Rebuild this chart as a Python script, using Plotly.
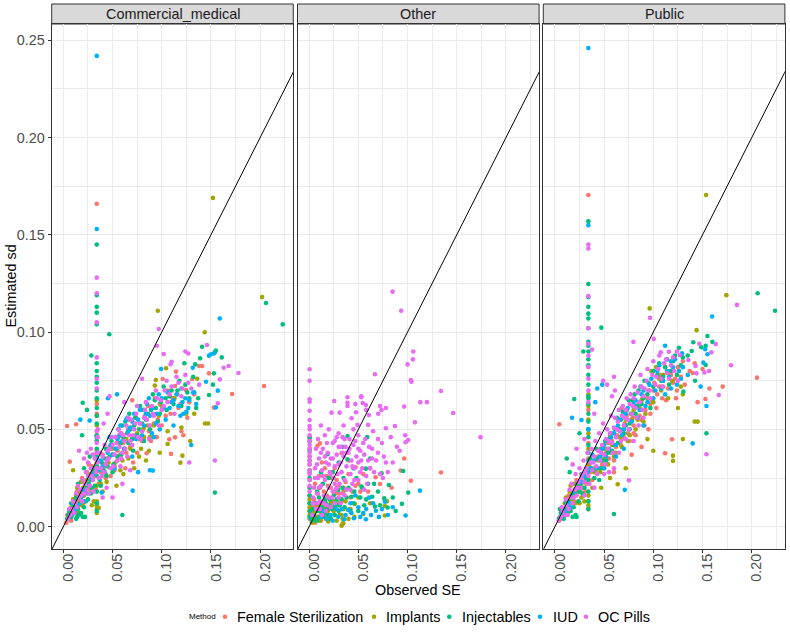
import plotly.graph_objects as go

# ---------------- data ----------------
PANELS = ["Commercial_medical", "Other", "Public"]
METHODS = ["Female Sterilization", "Implants", "Injectables", "IUD", "OC Pills"]
COLORS = ["#F8766D", "#A3A500", "#00BF7D", "#00B0F6", "#E76BF3"]
X_TICKS = [0.00, 0.05, 0.10, 0.15, 0.20]
Y_TICKS = [0.00, 0.05, 0.10, 0.15, 0.20, 0.25]
X_RANGE = [-0.0118, 0.2337]
Y_RANGE = [-0.0115, 0.2584]

# (Observed SE, Estimated sd) pairs
CM_FS = [(0.034,0.166),(0.034,0.063),(0.034,0.058),(0.034,0.044),(0.034,0.029),
    (0.0038,0.0517),(0.013,0.0526),(0.0065,0.0334),(0.003,0.002),(0.005,0.004),(0.007,0.006),
    (0.009,0.009),(0.011,0.008),(0.013,0.012),(0.015,0.014),(0.017,0.017),(0.02,0.012),(0.022,0.02),
    (0.024,0.028),(0.027,0.019),(0.03,0.025),(0.036,0.022),(0.038,0.028),(0.042,0.031),(0.045,0.035),
    (0.048,0.026),(0.05,0.04),(0.053,0.033),(0.056,0.046),(0.058,0.037),(0.061,0.043),(0.063,0.03),
    (0.066,0.05),(0.068,0.041),(0.07,0.065),(0.072,0.046),(0.075,0.038),(0.078,0.053),(0.08,0.044),
    (0.083,0.057),(0.0847,0.0377),(0.087,0.049),(0.09,0.061),(0.092,0.053),(0.095,0.046),(0.098,0.063),
    (0.101,0.0759),(0.104,0.057),(0.1077,0.0449),(0.1094,0.0374),(0.111,0.066),(0.1135,0.0459),
    (0.1135,0.0723),(0.1145,0.0797),(0.117,0.061),(0.12,0.049),(0.122,0.047),(0.1247,0.0702),
    (0.128,0.064),(0.131,0.0759),(0.138,0.0826),(0.141,0.0826),(0.148,0.0788),(0.153,0.0612),
    (0.1715,0.0682),(0.204,0.0723),(0.019,0.025),(0.026,0.032),
    (0.004,0.006),(0.008,0.003),(0.014,0.018),(0.021,0.016),(0.025,0.022),(0.029,0.031),(0.033,0.019),
    (0.04,0.037),(0.043,0.025),(0.047,0.041),(0.052,0.029),(0.055,0.039),(0.059,0.048),(0.064,0.038),
    (0.067,0.055),(0.071,0.033),(0.074,0.056),(0.077,0.045),(0.082,0.051),(0.086,0.062),(0.089,0.044),
    (0.093,0.066),(0.096,0.055),(0.1,0.052),(0.106,0.07),(0.109,0.058),(0.116,0.068),(0.119,0.063),
    (0.126,0.056),(0.133,0.068)]
CM_IMP = [(0.034,0.065),(0.034,0.057),(0.034,0.052),(0.034,0.047),(0.034,0.039),(0.034,0.033),
    (0.034,0.021),(0.034,0.013),(0.034,0.011),(0.034,0.009),(0.034,0.007),
    (0.152,0.169),(0.096,0.111),(0.202,0.118),(0.1437,0.0999),(0.144,0.053),(0.147,0.053),
    (0.121,0.0365),(0.119,0.0329),(0.129,0.044),(0.098,0.038),(0.106,0.0425),(0.036,0.0096),
    (0.0099,0.029),(0.006,0.007),(0.008,0.010),(0.01,0.014),(0.012,0.008),(0.014,0.02),(0.016,0.012),
    (0.018,0.023),(0.021,0.016),(0.024,0.024),(0.029,0.011),(0.031,0.013),(0.04,0.018),(0.043,0.027),
    (0.046,0.033),(0.05,0.037),(0.054,0.021),(0.057,0.043),(0.06,0.034),(0.064,0.045),(0.068,0.04),
    (0.072,0.03),(0.075,0.048),(0.079,0.04),(0.082,0.046),(0.086,0.052),(0.094,0.0754),(0.093,0.0725),
    (0.1044,0.0814),(0.136,0.076),(0.133,0.058),(0.12,0.051),(0.106,0.049),(0.084,0.034),
    (0.1,0.062),(0.113,0.066),(0.125,0.058),(0.087,0.039),(0.061,0.027),
    (0.004,0.004),(0.009,0.006),(0.011,0.011),(0.013,0.016),(0.015,0.007),(0.017,0.018),(0.019,0.011),
    (0.02,0.02),(0.023,0.013),(0.026,0.02),(0.028,0.027),(0.038,0.022),(0.041,0.032),(0.044,0.023),
    (0.048,0.04),(0.052,0.031),(0.055,0.036),(0.058,0.029),(0.062,0.04),(0.066,0.035),(0.07,0.045),
    (0.077,0.036),(0.081,0.05),(0.088,0.046),(0.092,0.052),(0.097,0.057)]
CM_INJ = [(0.034,0.145),(0.034,0.119),(0.034,0.113),(0.034,0.110),(0.034,0.104),(0.034,0.084),
    (0.034,0.080),(0.034,0.077),(0.034,0.074),(0.034,0.070),(0.034,0.066),(0.034,0.061),(0.034,0.057),
    (0.034,0.053),(0.034,0.047),(0.034,0.044),(0.034,0.040),(0.034,0.036),(0.034,0.031),(0.034,0.026),
    (0.034,0.018),(0.034,0.012),(0.034,0.008),
    (0.0467,0.0989),(0.0285,0.088),(0.206,0.115),(0.223,0.104),(0.154,0.0175),(0.060,0.006),
    (0.0197,0.0637),(0.019,0.047),(0.141,0.0925),(0.154,0.0896),(0.155,0.0905),(0.161,0.087),
    (0.139,0.0865),(0.123,0.084),(0.134,0.0834),(0.153,0.0788),(0.152,0.073),(0.148,0.0677),
    (0.137,0.066),(0.024,0.06),
    (0.004,0.004),(0.006,0.008),(0.008,0.005),(0.01,0.01),(0.012,0.007),(0.013,0.015),(0.015,0.009),
    (0.017,0.012),(0.018,0.007),(0.02,0.005),(0.022,0.005),(0.023,0.018),(0.025,0.014),(0.026,0.022),
    (0.028,0.017),(0.03,0.028),(0.032,0.021),(0.037,0.024),(0.039,0.033),(0.041,0.029),(0.043,0.04),
    (0.044,0.026),(0.047,0.036),(0.049,0.044),(0.051,0.032),(0.054,0.04),(0.056,0.05),(0.059,0.037),
    (0.061,0.046),(0.063,0.054),(0.066,0.043),(0.068,0.05),(0.071,0.039),(0.073,0.056),(0.075,0.047),
    (0.078,0.062),(0.08,0.053),(0.082,0.044),(0.086,0.058),(0.088,0.05),(0.091,0.068),(0.094,0.061),
    (0.096,0.054),(0.099,0.064),(0.102,0.072),(0.105,0.06),(0.108,0.067),(0.112,0.063),(0.116,0.07),
    (0.12,0.062),(0.124,0.073),(0.128,0.066),(0.135,0.061),(0.008,0.012),(0.015,0.022),(0.021,0.03),
    (0.027,0.036),(0.013,0.004),(0.016,0.006),
    (0.005,0.006),(0.009,0.007),(0.011,0.013),(0.014,0.005),(0.019,0.016),(0.021,0.01),(0.024,0.02),
    (0.027,0.026),(0.029,0.02),(0.031,0.03),(0.036,0.029),(0.038,0.021),(0.042,0.035),(0.045,0.031),
    (0.048,0.041),(0.05,0.028),(0.053,0.046),(0.055,0.036),(0.058,0.043),(0.06,0.052),(0.062,0.04),
    (0.065,0.048),(0.067,0.058),(0.07,0.045),(0.072,0.052),(0.077,0.05),(0.081,0.06),(0.084,0.055),
    (0.089,0.06),(0.093,0.065),(0.098,0.058),(0.104,0.066),(0.11,0.07),(0.118,0.075),(0.126,0.069),
    (0.132,0.077)]
CM_IUD = [(0.034,0.242),(0.034,0.153),(0.034,0.046),(0.034,0.035),
    (0.159,0.107),(0.157,0.0699),(0.155,0.0613),(0.148,0.0879),(0.150,0.0886),(0.153,0.089),
    (0.1315,0.0817),(0.145,0.0745),(0.133,0.069),(0.135,0.063),(0.13,0.042),(0.0993,0.081),
    (0.091,0.0288),(0.088,0.029),(0.0705,0.0185),(0.039,0.0175),(0.0173,0.055),(0.0268,0.0545),
    (0.0454,0.066),(0.0546,0.068),(0.112,0.065),(0.12,0.071),(0.132,0.069),
    (0.008,0.006),(0.012,0.009),(0.018,0.015),(0.022,0.013),(0.028,0.024),(0.035,0.029),(0.04,0.031),
    (0.045,0.038),(0.05,0.037),(0.055,0.045),(0.058,0.052),(0.062,0.04),(0.066,0.049),(0.07,0.054),
    (0.074,0.045),(0.078,0.06),(0.082,0.052),(0.085,0.063),(0.088,0.057),(0.092,0.046),(0.095,0.058),
    (0.098,0.05),(0.1,0.066),(0.104,0.055),(0.108,0.061),(0.112,0.052),(0.115,0.068),(0.119,0.057),
    (0.122,0.058),(0.125,0.059),(0.128,0.065),(0.07,0.036),(0.09,0.048),(0.065,0.056),(0.047,0.046),
    (0.052,0.03),(0.076,0.028),
    (0.01,0.012),(0.015,0.011),(0.02,0.019),(0.025,0.017),(0.031,0.027),(0.038,0.034),(0.042,0.028),
    (0.048,0.042),(0.053,0.04),(0.057,0.047),(0.06,0.044),(0.064,0.055),(0.068,0.051),(0.072,0.058),
    (0.076,0.055),(0.08,0.047),(0.084,0.058),(0.087,0.066),(0.091,0.061),(0.094,0.053),(0.097,0.068),
    (0.102,0.061),(0.106,0.069),(0.11,0.064),(0.117,0.062),(0.121,0.064),(0.124,0.066),(0.127,0.061)]
CM_OC = [(0.034,0.128),(0.034,0.120),(0.034,0.105),(0.034,0.087),(0.034,0.076),(0.034,0.071),
    (0.034,0.049),(0.034,0.043),(0.034,0.038),
    (0.097,0.1016),(0.095,0.093),(0.102,0.0887),(0.124,0.09),(0.127,0.089),(0.146,0.0934),
    (0.168,0.0826),(0.178,0.079),(0.163,0.0817),(0.159,0.0757),(0.157,0.0634),(0.154,0.034),
    (0.128,0.033),(0.110,0.0848),(0.109,0.0835),(0.080,0.076),(0.047,0.067),(0.045,0.058),
    (0.016,0.039),(0.021,0.035),(0.05,0.015),(0.044,0.02),(0.138,0.073),
    (0.005,0.004),(0.007,0.006),(0.009,0.009),(0.011,0.007),(0.012,0.012),(0.014,0.01),(0.016,0.015),
    (0.017,0.019),(0.019,0.013),(0.021,0.017),(0.022,0.022),(0.024,0.019),(0.025,0.026),(0.027,0.021),
    (0.028,0.03),(0.03,0.024),(0.031,0.018),(0.033,0.028),(0.035,0.033),(0.036,0.025),(0.038,0.03),
    (0.04,0.036),(0.041,0.028),(0.043,0.032),(0.045,0.039),(0.046,0.035),(0.048,0.03),(0.05,0.042),
    (0.052,0.037),(0.053,0.046),(0.055,0.034),(0.057,0.041),(0.058,0.048),(0.06,0.038),(0.062,0.044),
    (0.064,0.052),(0.065,0.036),(0.067,0.047),(0.069,0.055),(0.07,0.042),(0.072,0.05),(0.074,0.058),
    (0.076,0.046),(0.078,0.053),(0.08,0.049),(0.083,0.06),(0.085,0.055),(0.087,0.045),(0.09,0.062),
    (0.092,0.057),(0.095,0.066),(0.097,0.052),(0.1,0.06),(0.103,0.07),(0.106,0.064),(0.11,0.072),
    (0.113,0.058),(0.117,0.074),(0.12,0.067),(0.124,0.078),(0.13,0.071),(0.06,0.022),(0.068,0.029),
    (0.058,0.031),(0.04,0.015),(0.035,0.046),(0.028,0.04),(0.03,0.037),(0.025,0.033),
    (0.006,0.009),(0.01,0.013),(0.013,0.017),(0.015,0.021),(0.018,0.016),(0.02,0.024),(0.023,0.028),
    (0.026,0.017),(0.029,0.026),(0.032,0.035),(0.034,0.03),(0.037,0.038),(0.039,0.026),(0.042,0.042),
    (0.044,0.034),(0.047,0.04),(0.049,0.046),(0.051,0.031),(0.054,0.043),(0.056,0.05),(0.059,0.035),
    (0.061,0.047),(0.063,0.04),(0.066,0.056),(0.068,0.044),(0.071,0.047),(0.073,0.053),(0.075,0.062),
    (0.079,0.045),(0.082,0.056),(0.084,0.064),(0.088,0.052),(0.091,0.058),(0.094,0.07),(0.099,0.065),
    (0.102,0.062),(0.105,0.075),(0.108,0.068),(0.115,0.077),(0.121,0.071),(0.127,0.074),(0.035,0.05),
    (0.041,0.053),(0.024,0.038),(0.062,0.064)]

OT_FS = [(0.0005,0.045),(0.0005,0.04),(0.0005,0.036),(0.0005,0.032),(0.0005,0.028),(0.0005,0.024),
    (0.0005,0.02),(0.0005,0.016),(0.0005,0.012),(0.0005,0.008),(0.0005,0.004),
    (0.011,0.0428),(0.0085,0.0416),(0.0966,0.035),(0.093,0.0288),(0.1034,0.0236),(0.0675,0.0254),
    (0.072,0.0219),(0.0838,0.02),(0.0472,0.0305),(0.033,0.0377),(0.134,0.0278),(0.004,0.003),
    (0.006,0.002),(0.008,0.005),(0.01,0.008),(0.012,0.003),(0.014,0.012),(0.016,0.006),(0.018,0.016),
    (0.02,0.009),(0.022,0.02),(0.025,0.013),(0.028,0.024),(0.031,0.017),(0.035,0.02),(0.04,0.027),
    (0.044,0.018),(0.05,0.022),(0.055,0.027),(0.06,0.018),(0.026,0.03),(0.018,0.026),(0.013,0.033),
    (0.04,0.034),(0.062,0.03),
    (0.002,0.006),(0.003,0.01),(0.005,0.014),(0.007,0.011),(0.009,0.017),(0.011,0.02),(0.013,0.007),
    (0.015,0.018),(0.017,0.011),(0.019,0.021),(0.021,0.014),(0.023,0.025),(0.027,0.017),(0.03,0.021),
    (0.033,0.013),(0.037,0.023),(0.042,0.015),(0.047,0.021),(0.052,0.018),(0.006,0.022),(0.01,0.026),
    (0.016,0.03)]
OT_IMP = [(0.077,0.0057),(0.079,0.013),(0.077,0.0106),(0.055,0.0065),(0.0465,0.0117),(0.0347,0.0017),
    (0.0194,0.0026),(0.0092,0.0051),(0.0126,0.0069),(0.003,0.002),(0.005,0.004),(0.007,0.008),
    (0.01,0.011),(0.015,0.009),(0.017,0.004),(0.022,0.012),(0.025,0.008),(0.028,0.003),(0.03,0.012),
    (0.033,0.006),(0.037,0.013),(0.04,0.004),(0.0005,0.01),(0.0005,0.014),(0.0005,0.006),(0.05,0.015),
    (0.062,0.012),(0.035,0.018),(0.034,0.0014),(0.034,0.004),
    (0.002,0.005),(0.004,0.008),(0.006,0.003),(0.008,0.012),(0.011,0.003),(0.013,0.01),(0.016,0.013),
    (0.019,0.008),(0.021,0.005),(0.024,0.013),(0.027,0.009),(0.031,0.006),(0.035,0.009),(0.042,0.009),
    (0.046,0.005),(0.033,0.0005)]
OT_INJ = [(0.0005,0.0437),(0.0005,0.039),(0.0005,0.046),(0.0005,0.034),(0.0005,0.029),(0.0005,0.025),
    (0.0005,0.02),(0.0005,0.016),(0.0005,0.012),(0.0005,0.008),(0.0005,0.005),
    (0.039,0.0466),(0.059,0.046),(0.0336,0.041),(0.0187,0.0372),(0.039,0.0346),(0.0577,0.0298),
    (0.0736,0.0274),(0.0956,0.0286),(0.1007,0.0175),(0.088,0.008),(0.0763,0.0146),(0.081,0.0214),
    (0.0797,0.0098),(0.0669,0.0103),(0.0641,0.0154),(0.0532,0.0206),(0.0431,0.0154),(0.0296,0.0189),
    (0.0943,0.0117),(0.003,0.003),(0.005,0.006),(0.007,0.004),(0.009,0.008),(0.011,0.005),(0.013,0.01),
    (0.015,0.007),(0.017,0.012),(0.019,0.006),(0.021,0.014),(0.023,0.009),(0.025,0.016),(0.027,0.011),
    (0.03,0.008),(0.033,0.014),(0.036,0.01),(0.04,0.02),(0.045,0.012),(0.048,0.025),(0.052,0.015),
    (0.056,0.011),(0.06,0.022),(0.07,0.018),(0.024,0.028),(0.014,0.022),(0.008,0.018),(0.045,0.03),
    (0.062,0.035),(0.035,0.025),
    (0.002,0.004),(0.004,0.009),(0.006,0.012),(0.008,0.003),(0.01,0.015),(0.012,0.008),(0.014,0.005),
    (0.016,0.014),(0.018,0.009),(0.02,0.011),(0.022,0.004),(0.024,0.01),(0.026,0.006),(0.028,0.014),
    (0.031,0.011),(0.034,0.02),(0.038,0.015),(0.042,0.008),(0.046,0.018),(0.05,0.008),(0.054,0.02),
    (0.058,0.014),(0.066,0.022),(0.072,0.011),(0.085,0.015),(0.03,0.033),(0.02,0.025),(0.012,0.028)]
OT_IUD = [(0.061,0.0149),(0.0679,0.0082),(0.0577,0.0038),(0.077,0.0128),(0.098,0.0057),(0.0455,0.0043),
    (0.0397,0.0086),(0.0296,0.0051),(0.022,0.006),(0.1126,0.0185),(0.0357,0.0038),(0.05,0.01),
    (0.055,0.007),(0.065,0.012),(0.042,0.012),(0.033,0.009),(0.026,0.012),(0.018,0.004),(0.012,0.005),
    (0.071,0.005),(0.085,0.01),(0.047,0.016),
    (0.015,0.008),(0.024,0.003),(0.028,0.009),(0.037,0.006),(0.043,0.007),(0.052,0.005),(0.058,0.009),
    (0.063,0.006),(0.074,0.009),(0.08,0.006)]
OT_OC = [(0.0005,0.0809),(0.0005,0.075),(0.0005,0.0655),(0.0005,0.0642),(0.0005,0.0596),(0.0005,0.0548),
    (0.0005,0.0517),(0.0005,0.05),(0.0005,0.047),(0.0005,0.044),(0.0005,0.042),(0.0005,0.04),
    (0.0005,0.038),(0.0005,0.036),(0.0005,0.034),(0.0005,0.032),(0.0005,0.029),(0.0005,0.027),
    (0.0005,0.024),(0.0005,0.021),(0.0005,0.018),
    (0.0848,0.1208),(0.0936,0.111),(0.1058,0.090),(0.1055,0.086),(0.1,0.0834),(0.104,0.0745),
    (0.1034,0.0754),(0.134,0.0697),(0.1464,0.0584),(0.1742,0.046),(0.1197,0.064),(0.113,0.064),
    (0.0669,0.0783),(0.053,0.067),(0.0966,0.0617),(0.0977,0.047),(0.0228,0.0586),(0.0255,0.0646),
    (0.031,0.0586),(0.039,0.0665),(0.039,0.0637),(0.039,0.062),(0.053,0.0665),(0.0577,0.0625),
    (0.0608,0.0574),(0.0476,0.0588),(0.0431,0.0557),(0.0492,0.0523),(0.06,0.0523),(0.0702,0.058),
    (0.078,0.061),(0.078,0.0506),(0.0872,0.0517),(0.0892,0.0411),(0.1075,0.0536),(0.1007,0.0445),
    (0.098,0.0434),(0.0545,0.0635),(0.047,0.063),(0.058,0.06),(0.072,0.062),(0.0735,0.06),(0.065,0.049),
    (0.07,0.045),(0.083,0.046),(0.092,0.039),(0.085,0.033),(0.076,0.036),(0.064,0.04),(0.055,0.043),
    (0.05,0.047),(0.045,0.05),(0.041,0.045),(0.035,0.052),(0.03,0.048),(0.026,0.044),(0.02,0.05),
    (0.003,0.006),(0.004,0.012),(0.005,0.02),(0.006,0.03),(0.007,0.009),(0.008,0.017),(0.009,0.025),
    (0.01,0.035),(0.011,0.013),(0.012,0.021),(0.013,0.029),(0.014,0.04),(0.015,0.016),(0.016,0.024),
    (0.017,0.033),(0.018,0.011),(0.019,0.038),(0.02,0.02),(0.021,0.028),(0.022,0.035),(0.023,0.015),
    (0.024,0.043),(0.025,0.025),(0.026,0.031),(0.027,0.019),(0.028,0.037),(0.029,0.027),(0.03,0.041),
    (0.031,0.022),(0.032,0.033),(0.033,0.028),(0.034,0.046),(0.035,0.036),(0.036,0.024),(0.037,0.041),
    (0.038,0.031),(0.04,0.038),(0.042,0.027),(0.043,0.034),(0.045,0.042),(0.046,0.03),(0.048,0.036),
    (0.05,0.033),(0.052,0.039),(0.054,0.03),(0.056,0.037),(0.058,0.026),(0.06,0.034),(0.062,0.03),
    (0.066,0.028),(0.068,0.034),(0.072,0.027),(0.075,0.025),(0.08,0.028),(0.013,0.006),(0.017,0.008),
    (0.022,0.01),(0.026,0.012),(0.03,0.015),(0.034,0.017),(0.038,0.019),(0.044,0.022),(0.05,0.024),
    (0.056,0.019),(0.009,0.045),(0.016,0.047),(0.012,0.052),(0.007,0.04),
    (0.004,0.015),(0.006,0.025),(0.008,0.032),(0.01,0.02),(0.012,0.038),(0.014,0.026),(0.016,0.036),
    (0.018,0.043),(0.02,0.032),(0.022,0.027),(0.024,0.035),(0.026,0.022),(0.028,0.046),(0.03,0.032),
    (0.032,0.041),(0.034,0.038),(0.036,0.045),(0.038,0.038),(0.041,0.04),(0.044,0.031),(0.047,0.044),
    (0.05,0.04),(0.053,0.034),(0.057,0.045),(0.061,0.041),(0.064,0.035),(0.07,0.038),(0.074,0.043),
    (0.078,0.033),(0.008,0.012),(0.011,0.009),(0.015,0.012),(0.02,0.015),(0.024,0.018),(0.028,0.02),
    (0.032,0.012),(0.036,0.016),(0.042,0.019),(0.046,0.024),(0.052,0.028),(0.059,0.022)]

PU_FS = [(0.034,0.1705),(0.034,0.06),(0.034,0.05),(0.034,0.043),(0.034,0.035),
    (0.0045,0.0526),(0.2054,0.0766),(0.1705,0.072),(0.153,0.0656),(0.112,0.0377),(0.119,0.0449),
    (0.145,0.064),(0.14,0.079),(0.125,0.082),(0.122,0.076),(0.1,0.07),(0.097,0.063),(0.088,0.041),
    (0.08,0.048),(0.068,0.061),
    (0.004,0.003),(0.006,0.004),(0.009,0.007),(0.012,0.01),(0.015,0.014),(0.018,0.016),(0.02,0.013),
    (0.023,0.02),(0.026,0.018),(0.029,0.027),(0.032,0.022),(0.036,0.028),(0.04,0.03),(0.044,0.036),
    (0.048,0.032),(0.052,0.04),(0.055,0.035),(0.058,0.044),(0.062,0.041),(0.065,0.05),(0.068,0.045),
    (0.071,0.053),(0.074,0.048),(0.077,0.058),(0.08,0.052),(0.083,0.062),(0.086,0.057),(0.089,0.066),
    (0.092,0.06),(0.095,0.07),(0.098,0.064),(0.101,0.074),(0.104,0.068),(0.107,0.078),(0.11,0.072),
    (0.113,0.065),(0.116,0.08),(0.12,0.074),(0.124,0.07),(0.128,0.077),(0.132,0.073),(0.137,0.08),
    (0.078,0.037),(0.095,0.05),(0.06,0.028),(0.15,0.081),(0.157,0.071),
    (0.007,0.009),(0.011,0.006),(0.014,0.016),(0.019,0.012),(0.022,0.024),(0.027,0.022),(0.031,0.018),
    (0.035,0.032),(0.038,0.024),(0.042,0.028),(0.046,0.04),(0.05,0.03),(0.054,0.043),(0.057,0.038),
    (0.06,0.034),(0.063,0.047),(0.067,0.042),(0.07,0.046),(0.073,0.057),(0.076,0.044),(0.079,0.056),
    (0.082,0.047),(0.085,0.064),(0.088,0.055),(0.091,0.052),(0.094,0.066),(0.097,0.058),(0.103,0.061),
    (0.106,0.072),(0.109,0.066),(0.115,0.071),(0.118,0.078),(0.123,0.066),(0.126,0.08),(0.13,0.085),
    (0.142,0.084)]
PU_IMP = [(0.034,0.068),(0.034,0.062),(0.034,0.055),(0.034,0.048),(0.034,0.04),(0.034,0.032),
    (0.034,0.024),(0.034,0.016),(0.034,0.013),(0.034,0.011),(0.034,0.009),
    (0.1536,0.1705),(0.1742,0.119),(0.0963,0.1122),(0.144,0.101),(0.142,0.054),(0.145,0.054),
    (0.12,0.0365),(0.12,0.0338),(0.1,0.039),(0.13,0.045),(0.0638,0.0218),(0.098,0.08),(0.103,0.082),
    (0.11,0.078),(0.125,0.061),(0.128,0.072),(0.13,0.068),
    (0.005,0.005),(0.007,0.008),(0.01,0.012),(0.012,0.009),(0.015,0.018),(0.017,0.014),(0.02,0.022),
    (0.022,0.017),(0.025,0.012),(0.028,0.02),(0.03,0.013),(0.038,0.02),(0.042,0.03),(0.046,0.028),
    (0.05,0.035),(0.054,0.032),(0.058,0.042),(0.062,0.038),(0.066,0.046),(0.07,0.05),(0.074,0.044),
    (0.078,0.055),(0.082,0.05),(0.086,0.061),(0.09,0.054),(0.094,0.045),(0.072,0.03),(0.056,0.025),
    (0.047,0.02),(0.108,0.07),(0.115,0.066),
    (0.008,0.006),(0.011,0.015),(0.014,0.011),(0.016,0.021),(0.019,0.016),(0.021,0.012),(0.024,0.019),
    (0.027,0.015),(0.029,0.023),(0.04,0.028),(0.044,0.034),(0.048,0.03),(0.052,0.038),(0.056,0.047),
    (0.06,0.036),(0.064,0.05),(0.068,0.041),(0.072,0.055),(0.076,0.047),(0.08,0.06),(0.084,0.055),
    (0.088,0.065),(0.092,0.058),(0.1,0.064),(0.106,0.076),(0.119,0.075)]
PU_INJ = [(0.034,0.157),(0.034,0.1247),(0.034,0.118),(0.034,0.113),(0.034,0.1095),(0.034,0.107),
    (0.034,0.102),(0.034,0.095),(0.034,0.093),(0.034,0.090),(0.034,0.086),(0.034,0.083),(0.034,0.078),
    (0.034,0.073),(0.034,0.067),(0.034,0.066),(0.034,0.063),(0.034,0.058),(0.034,0.054),(0.034,0.05),
    (0.034,0.046),(0.034,0.042),(0.034,0.038),(0.034,0.034),(0.034,0.029),(0.034,0.024),(0.034,0.018),
    (0.034,0.013),(0.034,0.009),
    (0.206,0.120),(0.2237,0.111),(0.0472,0.1023),(0.0289,0.090),(0.0197,0.0656),(0.060,0.0065),
    (0.154,0.048),(0.1487,0.0922),(0.1532,0.0929),(0.139,0.0903),(0.1406,0.0948),(0.1532,0.0831),
    (0.1424,0.075),(0.1305,0.0694),(0.16,0.095),(0.155,0.098),(0.025,0.048),(0.012,0.035),(0.015,0.028),
    (0.004,0.004),(0.006,0.007),(0.008,0.005),(0.01,0.009),(0.012,0.006),(0.014,0.013),(0.016,0.008),
    (0.018,0.005),(0.02,0.017),(0.022,0.005),(0.024,0.013),(0.026,0.022),(0.028,0.017),(0.031,0.025),
    (0.037,0.03),(0.04,0.025),(0.043,0.035),(0.046,0.03),(0.049,0.04),(0.052,0.034),(0.055,0.045),
    (0.058,0.039),(0.061,0.05),(0.064,0.043),(0.067,0.055),(0.07,0.048),(0.073,0.06),(0.076,0.053),
    (0.079,0.065),(0.082,0.058),(0.085,0.07),(0.088,0.063),(0.091,0.075),(0.094,0.068),(0.097,0.061),
    (0.1,0.072),(0.104,0.078),(0.108,0.075),(0.112,0.082),(0.116,0.073),(0.12,0.085),(0.124,0.078),
    (0.128,0.083),(0.135,0.088),
    (0.005,0.009),(0.009,0.004),(0.011,0.012),(0.013,0.007),(0.017,0.016),(0.019,0.01),(0.021,0.006),
    (0.023,0.022),(0.025,0.018),(0.027,0.027),(0.03,0.02),(0.036,0.035),(0.039,0.029),(0.042,0.04),
    (0.045,0.024),(0.048,0.034),(0.051,0.044),(0.054,0.038),(0.057,0.048),(0.06,0.042),(0.063,0.056),
    (0.066,0.05),(0.069,0.059),(0.072,0.052),(0.075,0.065),(0.078,0.058),(0.081,0.068),(0.084,0.062),
    (0.087,0.072),(0.09,0.066),(0.095,0.074),(0.1,0.08),(0.106,0.084),(0.11,0.077),(0.114,0.086),
    (0.118,0.08),(0.122,0.088),(0.126,0.092),(0.13,0.087)]
PU_IUD = [(0.034,0.246),(0.034,0.155),(0.034,0.05),
    (0.1597,0.108),(0.0174,0.056),(0.027,0.0548),(0.071,0.0189),(0.14,0.0428),(0.154,0.062),
    (0.1292,0.0891),(0.1527,0.0912),(0.155,0.0886),(0.1508,0.0843),(0.1481,0.072),(0.043,0.071),
    (0.048,0.073),(0.041,0.064),(0.112,0.093),(0.118,0.085),(0.135,0.078),
    (0.006,0.005),(0.01,0.008),(0.014,0.012),(0.018,0.015),(0.024,0.02),(0.03,0.026),(0.036,0.03),
    (0.04,0.034),(0.046,0.036),(0.05,0.042),(0.055,0.04),(0.06,0.048),(0.064,0.052),(0.068,0.047),
    (0.072,0.058),(0.076,0.05),(0.08,0.063),(0.084,0.056),(0.088,0.068),(0.092,0.062),(0.096,0.073),
    (0.1,0.066),(0.104,0.08),(0.108,0.071),(0.112,0.068),(0.116,0.077),(0.12,0.082),(0.124,0.073),
    (0.128,0.076),(0.09,0.052),(0.07,0.04),(0.05,0.03),(0.062,0.036),
    (0.008,0.007),(0.012,0.011),(0.016,0.01),(0.02,0.018),(0.027,0.023),(0.033,0.028),(0.038,0.037),
    (0.043,0.03),(0.048,0.04),(0.052,0.036),(0.057,0.046),(0.062,0.042),(0.066,0.055),(0.07,0.05),
    (0.074,0.061),(0.078,0.054),(0.082,0.065),(0.086,0.06),(0.09,0.07),(0.094,0.064),(0.098,0.076),
    (0.102,0.07),(0.106,0.083),(0.11,0.075),(0.114,0.08),(0.118,0.071),(0.122,0.086),(0.126,0.08),
    (0.13,0.082)]
PU_OC = [(0.034,0.145),(0.034,0.143),(0.034,0.1185),(0.034,0.102),(0.034,0.094),(0.034,0.088),
    (0.034,0.082),(0.034,0.076),(0.034,0.07),(0.034,0.064),
    (0.185,0.114),(0.0966,0.1074),(0.0797,0.095),(0.1004,0.0965),(0.0377,0.091),(0.1665,0.0677),
    (0.179,0.083),(0.154,0.0372),(0.0753,0.0238),(0.1076,0.0896),(0.1158,0.0899),(0.12,0.087),
    (0.127,0.0882),(0.1356,0.0857),(0.143,0.0826),(0.1467,0.094),(0.1634,0.0939),(0.159,0.0896),
    (0.1519,0.0793),(0.1566,0.08),(0.1438,0.0788),(0.049,0.075),(0.061,0.07),(0.058,0.067),
    (0.03,0.045),(0.022,0.04),(0.018,0.032),
    (0.004,0.003),(0.006,0.005),(0.008,0.008),(0.01,0.006),(0.012,0.011),(0.014,0.009),(0.016,0.015),
    (0.018,0.012),(0.02,0.019),(0.022,0.016),(0.024,0.023),(0.026,0.02),(0.028,0.027),(0.03,0.023),
    (0.032,0.03),(0.034,0.026),(0.036,0.033),(0.038,0.029),(0.04,0.036),(0.042,0.031),(0.044,0.039),
    (0.046,0.034),(0.048,0.042),(0.05,0.037),(0.052,0.045),(0.054,0.04),(0.056,0.048),(0.058,0.043),
    (0.06,0.051),(0.062,0.046),(0.064,0.054),(0.066,0.049),(0.068,0.057),(0.07,0.052),(0.072,0.06),
    (0.074,0.055),(0.076,0.063),(0.078,0.058),(0.08,0.066),(0.082,0.061),(0.084,0.069),(0.086,0.064),
    (0.088,0.072),(0.09,0.067),(0.093,0.075),(0.096,0.07),(0.099,0.078),(0.102,0.073),(0.105,0.081),
    (0.108,0.076),(0.111,0.084),(0.114,0.079),(0.118,0.083),(0.05,0.027),(0.065,0.038),(0.072,0.045),
    (0.085,0.052),(0.04,0.02),(0.03,0.016),
    (0.007,0.01),(0.011,0.014),(0.013,0.006),(0.015,0.019),(0.017,0.022),(0.019,0.015),(0.021,0.027),
    (0.023,0.02),(0.025,0.03),(0.027,0.025),(0.029,0.034),(0.031,0.028),(0.033,0.038),(0.035,0.022),
    (0.037,0.04),(0.039,0.033),(0.041,0.044),(0.043,0.027),(0.045,0.048),(0.047,0.038),(0.049,0.053),
    (0.051,0.032),(0.053,0.05),(0.055,0.044),(0.057,0.057),(0.059,0.038),(0.061,0.056),(0.063,0.05),
    (0.065,0.06),(0.067,0.044),(0.069,0.062),(0.071,0.056),(0.073,0.066),(0.075,0.05),(0.077,0.068),
    (0.079,0.062),(0.081,0.072),(0.083,0.056),(0.087,0.078),(0.089,0.06),(0.091,0.071),(0.094,0.081),
    (0.097,0.066),(0.1,0.085),(0.103,0.077),(0.106,0.088),(0.109,0.072),(0.113,0.086),(0.116,0.076),
    (0.121,0.08),(0.124,0.09),(0.125,0.075),(0.09,0.056),(0.06,0.03),(0.055,0.028),(0.08,0.044),
    (0.053,0.073),(0.06,0.077),(0.04,0.058)]

DATA = {
    "Commercial_medical": [CM_FS, CM_IMP, CM_INJ, CM_IUD, CM_OC],
    "Other": [OT_FS, OT_IMP, OT_INJ, OT_IUD, OT_OC],
    "Public": [PU_FS, PU_IMP, PU_INJ, PU_IUD, PU_OC],
}

# ---------------- layout geometry ----------------
W, H = 790, 632
X_DOMAINS = [[51.7 / W, 293.3 / W], [297.5 / W, 539.1 / W], [543.3 / W, 784.9 / W]]
Y_DOMAIN = [83 / H, 608 / H]
STRIP_TOP = 628 / H
FONT = "Liberation Sans, Arial, sans-serif"
FS = 14.4
GRID = "#EBEBEB"
BORDER = "#333333"
LEGEND_Y = 616.7                                  # px from top
LEGEND_DOT_X = [225, 374, 449.3, 540, 586]        # px
LEGEND_TEXT_X = [236, 385, 461, 551.7, 596.7]     # px

fig = go.Figure()

for p, panel in enumerate(PANELS):
    sfx = "" if p == 0 else str(p + 1)
    for m, method in enumerate(METHODS):
        pts = DATA[panel][m]
        fig.add_trace(go.Scatter(
            x=[q[0] for q in pts], y=[q[1] for q in pts], mode="markers",
            marker=dict(color=COLORS[m], size=4.6, line=dict(width=0)),
            name=method, legendgroup=method, showlegend=False,
            xaxis="x" + sfx, yaxis="y" + sfx, hoverinfo="skip"))
    lo = min(X_RANGE[0], Y_RANGE[0])
    hi = max(X_RANGE[1], Y_RANGE[1])
    fig.add_trace(go.Scatter(
        x=[lo, hi], y=[lo, hi], mode="lines", line=dict(color="black", width=1),
        showlegend=False, xaxis="x" + sfx, yaxis="y" + sfx, hoverinfo="skip"))

layout = dict(
    width=W, height=H, margin=dict(l=0, r=0, t=0, b=0, autoexpand=False),
    paper_bgcolor="white", plot_bgcolor="white",
    font=dict(family=FONT, color="black"),
    showlegend=False,
)

shapes = []
annotations = []
for p, panel in enumerate(PANELS):
    sfx = "" if p == 0 else str(p + 1)
    layout["xaxis" + sfx] = dict(
        domain=X_DOMAINS[p], range=X_RANGE, anchor="y" + sfx,
        tickvals=X_TICKS, ticktext=[f"{v:.2f}" for v in X_TICKS], tickangle=-90,
        ticks="outside", ticklen=3, tickcolor=BORDER, tickwidth=1,
        tickfont=dict(size=FS, color="#4D4D4D", family=FONT),
        ticklabelshift=5, ticklabelstandoff=-5,
        showgrid=True, gridcolor=GRID, gridwidth=1,
        minor=dict(dtick=0.025, tick0=0, showgrid=True, gridcolor=GRID, gridwidth=0.5),
        showline=True, mirror=True, linecolor=BORDER, linewidth=1, zeroline=False,
    )
    layout["yaxis" + sfx] = dict(
        domain=Y_DOMAIN, range=Y_RANGE, anchor="x" + sfx,
        tickvals=Y_TICKS, ticktext=[f"{v:.2f}" for v in Y_TICKS],
        ticks="outside" if p == 0 else "", ticklen=3, tickcolor=BORDER, tickwidth=1,
        showticklabels=(p == 0),
        tickfont=dict(size=FS, color="#4D4D4D", family=FONT),
        showgrid=True, gridcolor=GRID, gridwidth=1,
        minor=dict(dtick=0.025, tick0=0, showgrid=True, gridcolor=GRID, gridwidth=0.5),
        showline=True, mirror=True, linecolor=BORDER, linewidth=1, zeroline=False,
    )
    if p > 0:
        layout["yaxis" + sfx]["matches"] = "y"
    shapes.append(dict(type="rect", xref="paper", yref="paper",
                       x0=X_DOMAINS[p][0], x1=X_DOMAINS[p][1], y0=Y_DOMAIN[1], y1=STRIP_TOP,
                       fillcolor="#D9D9D9", line=dict(color=BORDER, width=1), layer="below"))
    annotations.append(dict(text=panel, xref="paper", yref="paper",
                            x=sum(X_DOMAINS[p]) / 2, y=(Y_DOMAIN[1] + STRIP_TOP) / 2,
                            xanchor="center", yanchor="middle", showarrow=False,
                            font=dict(size=FS, color="#1A1A1A", family=FONT)))

annotations.append(dict(text="Observed SE", xref="paper", yref="paper",
                        x=418 / W, y=(H - 590) / H, xanchor="center", yanchor="middle",
                        showarrow=False, font=dict(size=FS, color="black", family=FONT)))
annotations.append(dict(text="Estimated sd", xref="paper", yref="paper",
                        x=10 / W, y=(H - 286.5) / H, xanchor="center", yanchor="middle",
                        textangle=-90, showarrow=False,
                        font=dict(size=FS, color="black", family=FONT)))

# legend (ggplot-style, bottom)
ly = (H - LEGEND_Y) / H
annotations.append(dict(text="Method", xref="paper", yref="paper", x=187 / W, y=ly,
                        xanchor="left", yanchor="middle", showarrow=False,
                        font=dict(size=8, color="black", family=FONT)))
for m, method in enumerate(METHODS):
    shapes.append(dict(type="circle", xref="paper", yref="paper",
                       xsizemode="pixel", ysizemode="pixel",
                       xanchor=LEGEND_DOT_X[m] / W, yanchor=ly,
                       x0=-2.3, x1=2.3, y0=-2.3, y1=2.3,
                       fillcolor=COLORS[m], line=dict(width=0)))
    annotations.append(dict(text=method, xref="paper", yref="paper",
                            x=(LEGEND_TEXT_X[m] - 1) / W, y=ly,
                            xanchor="left", yanchor="middle", showarrow=False,
                            font=dict(size=FS, color="black", family=FONT)))

layout["shapes"] = shapes
layout["annotations"] = annotations
fig.update_layout(**layout)

fig.write_html("out.html", config={"displayModeBar": False},
               post_script="document.body.style.margin='0px';document.body.style.padding='0px';")
